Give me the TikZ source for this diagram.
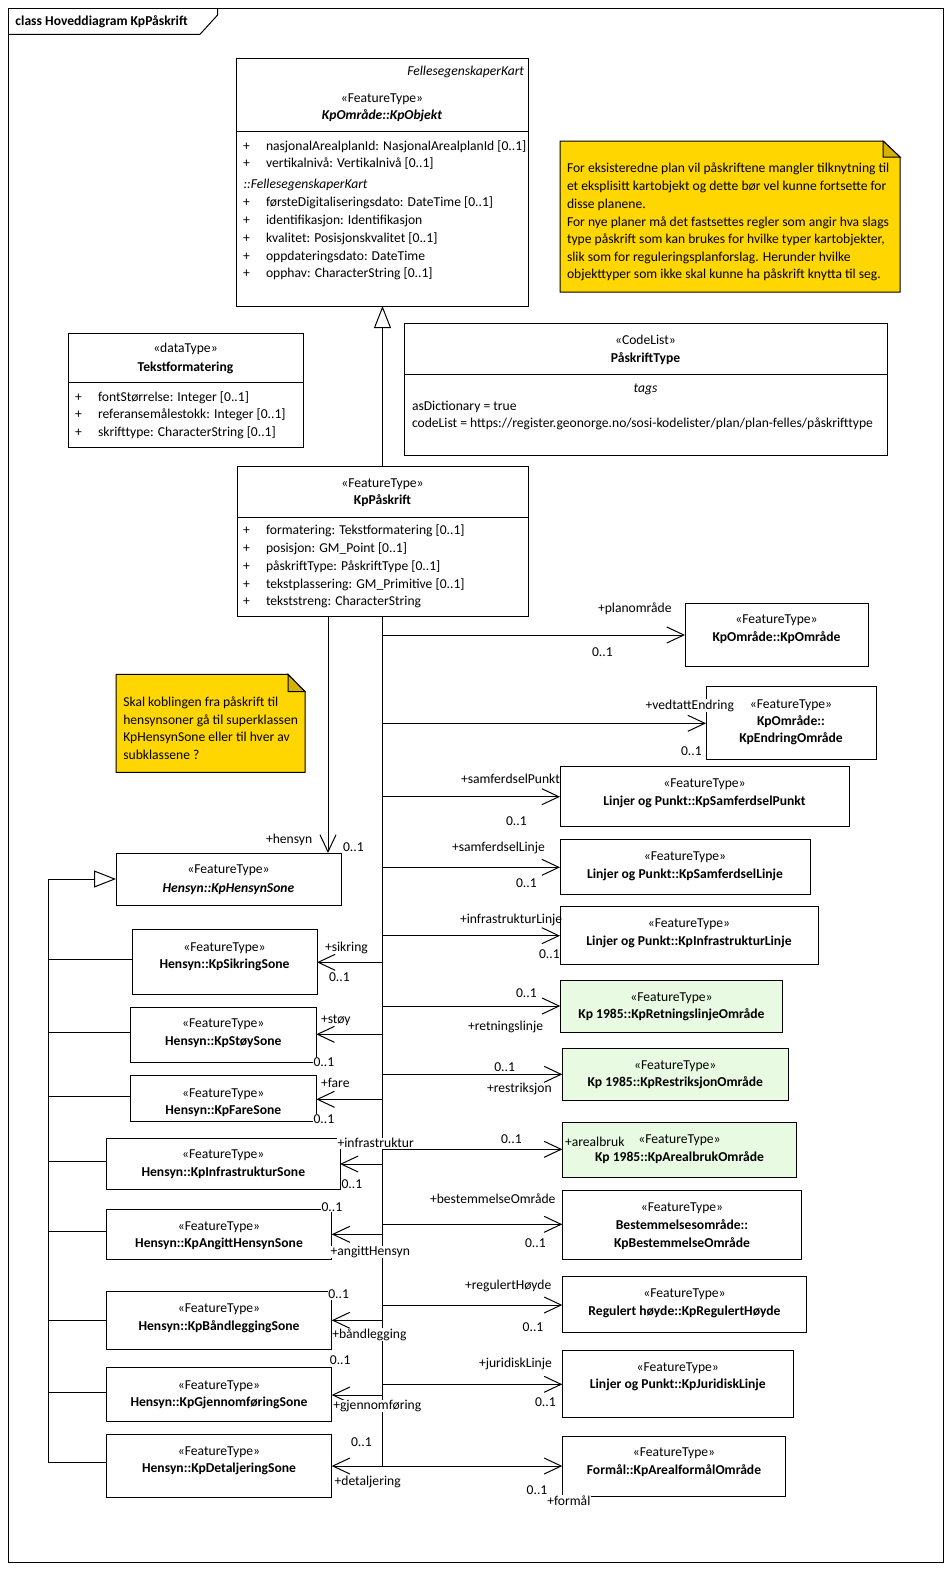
\documentclass[tikz,border=0pt]{standalone}
\usepackage{fontspec}
\setmainfont{Carlito}
\usetikzlibrary{arrows.meta}
\definecolor{noteyellow}{RGB}{255,214,0}
\definecolor{notefold}{RGB}{214,178,0}
\definecolor{kpgreen}{RGB}{232,250,226}
\newcommand\fsz{\fontsize{13.6}{17}\selectfont}
\newcommand\umlattr[5]{\node[tl] (#1p) at (#2,#4) {+}; \node[tl] (#1) at (#3,#4) {#5};}
\tikzset{
  every node/.style={inner sep=0pt, outer sep=0pt, font=\fsz},
  umlbox/.style={draw, line width=1pt, fill=white, anchor=north west, inner sep=0pt, outer sep=0pt},
  greenbox/.style={umlbox, fill=kpgreen},
  sepline/.style={line width=1pt},
  tc/.style={anchor=base, yshift=-4.5pt},
  tl/.style={anchor=base west, yshift=-4.5pt},
  tr/.style={anchor=base east, yshift=-4.5pt},
  bfs/.style={font=\fsz\bfseries},
  its/.style={font=\fsz\itshape},
  bis/.style={font=\fsz\bfseries\itshape},
  role/.style={tl, fill=white, inner sep=0.6pt},
  plainrole/.style={tl},
  assoc/.style={line width=1pt, -{Straight Barb[length=17pt,width=16pt,line width=1pt]}},
  genl/.style={line width=1pt, -{Triangle[open,length=22pt,width=17pt,line width=1pt]}},
  plainline/.style={line width=1pt},
  notebody/.style={line width=1pt, fill=noteyellow},
  notecorner/.style={line width=1pt, fill=notefold},
}
\begin{document}
\begin{tikzpicture}[x=1pt,y=-1pt]
\useasboundingbox (0,0) rectangle (951,1571);
\fill[white] (0,0) rectangle (951,1571);

% frame
\node[draw, line width=1pt, anchor=north west, minimum width=935pt, minimum height=1553pt] (frame) at (8,9) {};
\draw[plainline] (8,34.3) -- (200,34.3) -- (217.6,15) -- (217.6,9);
\node[tl, bfs] (title) at (15.5,21) {class Hoveddiagram KpPåskrift};

% KpObjekt
\node[umlbox, minimum width=292pt, minimum height=247pt] (obj) at (236,59) {};
\draw[sepline] (236,131) -- (528,131);
\node[tr, its] (objpkg) at (524,71) {FellesegenskaperKart};
\node[tc] (objst) at (382,97.7) {«FeatureType»};
\node[tc, bis] (objnm) at (382,115.3) {KpOmråde::KpObjekt};
\umlattr{oa1}{243}{266}{145.7}{nasjonalArealplanId: NasjonalArealplanId [0..1]}
\umlattr{oa2}{243}{266}{163}{vertikalnivå: Vertikalnivå [0..1]}
\node[tl, its] (oinh) at (243.5,184.3) {::FellesegenskaperKart};
\umlattr{oa3}{243}{266}{202.3}{førsteDigitaliseringsdato: DateTime [0..1]}
\umlattr{oa4}{243}{266}{220.3}{identifikasjon: Identifikasjon}
\umlattr{oa5}{243}{266}{238}{kvalitet: Posisjonskvalitet [0..1]}
\umlattr{oa6}{243}{266}{255.7}{oppdateringsdato: DateTime}
\umlattr{oa7}{243}{266}{273.3}{opphav: CharacterString [0..1]}

% Note 1
\draw[notebody] (560,141) -- (883,141) -- (900,157) -- (900,292) -- (560,292) -- cycle;
\draw[notecorner] (883,141) -- (883,157) -- (900,157) -- cycle;
\node[tl] (n1a) at (567,168.3) {For eksisteredne plan vil påskriftene mangler tilknytning til};
\node[tl] (n1b) at (567,185.8) {et eksplisitt kartobjekt og dette bør vel kunne fortsette for};
\node[tl] (n1c) at (567,203.5) {disse planene.};
\node[tl] (n1d) at (567,221.5) {For nye planer må det fastsettes regler som angir hva slags};
\node[tl] (n1e) at (567,239.2) {type påskrift som kan brukes for hvilke typer kartobjekter,};
\node[tl] (n1f) at (567,256.8) {slik som for reguleringsplanforslag. Herunder hvilke};
\node[tl] (n1g) at (567,274.3) {objekttyper som ikke skal kunne ha påskrift knytta til seg.};

% Tekstformatering
\node[umlbox, minimum width=235pt, minimum height=114pt] (tf) at (68,333) {};
\draw[sepline] (68,382) -- (303,382);
\node[tc] (tfst) at (185.5,348) {«dataType»};
\node[tc, bfs] (tfnm) at (185.5,366.5) {Tekstformatering};
\umlattr{ta1}{75}{98}{396.7}{fontStørrelse: Integer [0..1]}
\umlattr{ta2}{75}{98}{414.2}{referansemålestokk: Integer [0..1]}
\umlattr{ta3}{75}{98}{431.7}{skrifttype: CharacterString [0..1]}

% PaskriftType
\node[umlbox, minimum width=483pt, minimum height=132pt] (pt) at (404,323) {};
\draw[sepline] (404,374) -- (887,374);
\node[tc] (ptst) at (645.5,340) {«CodeList»};
\node[tc, bfs] (ptnm) at (645.5,358) {PåskriftType};
\node[tc, its] (pttag) at (645.5,388) {tags};
\node[tl] (ptv1) at (412,406) {asDictionary = true};
\node[tl] (ptv2) at (412,423.3) {codeList = https://register.geonorge.no/sosi-kodelister/plan/plan-felles/påskrifttype};

% KpPaskrift
\node[umlbox, minimum width=291pt, minimum height=150pt] (pa) at (237,466) {};
\draw[sepline] (237,517) -- (528,517);
\node[tc] (past) at (382.5,483) {«FeatureType»};
\node[tc, bfs] (panm) at (382.5,499.5) {KpPåskrift};
\umlattr{pa1}{243}{266}{530}{formatering: Tekstformatering [0..1]}
\umlattr{pa2}{243}{266}{548}{posisjon: GM\_Point [0..1]}
\umlattr{pa3}{243}{266}{566}{påskriftType: PåskriftType [0..1]}
\umlattr{pa4}{243}{266}{583.7}{tekstplassering: GM\_Primitive [0..1]}
\umlattr{pa5}{243}{266}{601}{tekststreng: CharacterString}

% generalization KpPaskrift -> KpObjekt
\draw[genl] (pa.north) -- (pa.north |- obj.south);

% Note 2
\draw[notebody] (116,674.3) -- (288,674.3) -- (305,691.7) -- (305,772.3) -- (116,772.3) -- cycle;
\draw[notecorner] (288,674.3) -- (288,691.7) -- (305,691.7) -- cycle;
\node[tl] (n2a) at (123.3,701.7) {Skal koblingen fra påskrift til};
\node[tl] (n2b) at (123.3,719.5) {hensynsoner gå til superklassen};
\node[tl] (n2c) at (123.3,737.3) {KpHensynSone eller til hver av};
\node[tl] (n2d) at (123.3,755) {subklassene ?};

% ===== left boxes =====
\node[umlbox, minimum width=225pt, minimum height=52pt] (hs) at (116,853) {};
\node[tc] (hss) at (228.5,869) {«FeatureType»};
\node[tc, bis] (hsn) at (228.5,887.5) {Hensyn::KpHensynSone};

\node[umlbox, minimum width=185pt, minimum height=65pt] (ss) at (132,929) {};
\node[tc] (sss) at (224.5,946.7) {«FeatureType»};
\node[tc, bfs] (ssn) at (224.5,963.7) {Hensyn::KpSikringSone};

\node[umlbox, minimum width=186pt, minimum height=54.6pt] (sy) at (130.3,1007.7) {};
\node[tc] (sys) at (223.3,1023.3) {«FeatureType»};
\node[tc, bfs] (syn) at (223.3,1041) {Hensyn::KpStøySone};

\node[umlbox, minimum width=186pt, minimum height=46pt] (fs) at (130.3,1075.7) {};
\node[tc] (fss) at (223.3,1092.7) {«FeatureType»};
\node[tc, bfs] (fsn) at (223.3,1110) {Hensyn::KpFareSone};

\node[umlbox, minimum width=233.3pt, minimum height=51pt] (is) at (106.7,1138.3) {};
\node[tc] (iss) at (223.3,1154.3) {«FeatureType»};
\node[tc, bfs] (isn) at (223.3,1172.3) {Hensyn::KpInfrastrukturSone};

\node[umlbox, minimum width=225pt, minimum height=50pt] (ah) at (106.7,1209.3) {};
\node[tc] (ahs) at (219,1225.7) {«FeatureType»};
\node[tc, bfs] (ahn) at (219,1243.3) {Hensyn::KpAngittHensynSone};

\node[umlbox, minimum width=225pt, minimum height=57.6pt] (bl) at (106.7,1291.7) {};
\node[tc] (bls) at (219,1307.7) {«FeatureType»};
\node[tc, bfs] (bln) at (219,1325.7) {Hensyn::KpBåndleggingSone};

\node[umlbox, minimum width=225pt, minimum height=54.4pt] (gj) at (106.7,1367.3) {};
\node[tc] (gjs) at (219,1385) {«FeatureType»};
\node[tc, bfs] (gjn) at (219,1401.7) {Hensyn::KpGjennomføringSone};

\node[umlbox, minimum width=225pt, minimum height=63pt] (dt) at (106.7,1434.3) {};
\node[tc] (dts) at (219,1450.7) {«FeatureType»};
\node[tc, bfs] (dtn) at (219,1468.3) {Hensyn::KpDetaljeringSone};

% ===== right boxes =====
\node[umlbox, minimum width=183pt, minimum height=63pt] (ko) at (685,603.3) {};
\node[tc] (kos) at (776.5,619.3) {«FeatureType»};
\node[tc, bfs] (kon) at (776.5,637.3) {KpOmråde::KpOmråde};

\node[umlbox, minimum width=170pt, minimum height=72.6pt] (ke) at (706,686.7) {};
\node[tc] (kes) at (791,703.7) {«FeatureType»};
\node[tc, bfs] (ken1) at (791,720.7) {KpOmråde::};
\node[tc, bfs] (ken2) at (791,738.3) {KpEndringOmråde};

\node[umlbox, minimum width=289pt, minimum height=60pt] (sp) at (560,766.7) {};
\node[tc] (sps) at (704.5,782.7) {«FeatureType»};
\node[tc, bfs] (spn) at (704.5,800.7) {Linjer og Punkt::KpSamferdselPunkt};

\node[umlbox, minimum width=250pt, minimum height=55pt] (sl) at (560,839.3) {};
\node[tc] (sls) at (685,855.7) {«FeatureType»};
\node[tc, bfs] (sln) at (685,873.7) {Linjer og Punkt::KpSamferdselLinje};

\node[umlbox, minimum width=258pt, minimum height=57.3pt] (il) at (560,906.7) {};
\node[tc] (ils) at (689,922.7) {«FeatureType»};
\node[tc, bfs] (iln) at (689,940.7) {Linjer og Punkt::KpInfrastrukturLinje};

\node[greenbox, minimum width=222.4pt, minimum height=51.6pt] (ro) at (560.3,980.7) {};
\node[tc] (ros) at (671.5,996.7) {«FeatureType»};
\node[tc, bfs] (ron) at (671.5,1014.3) {Kp 1985::KpRetningslinjeOmråde};

\node[greenbox, minimum width=226pt, minimum height=51.6pt] (rs) at (562.3,1048.7) {};
\node[tc] (rss) at (675.3,1064.7) {«FeatureType»};
\node[tc, bfs] (rsn) at (675.3,1082.3) {Kp 1985::KpRestriksjonOmråde};

\node[greenbox, minimum width=234.4pt, minimum height=54.6pt] (ab) at (562.3,1122.7) {};
\node[tc] (abs) at (679.5,1139) {«FeatureType»};
\node[tc, bfs] (abn) at (679.5,1156.7) {Kp 1985::KpArealbrukOmråde};

\node[umlbox, minimum width=239.4pt, minimum height=69.3pt] (bo) at (562.3,1190) {};
\node[tc] (bos) at (682,1206.7) {«FeatureType»};
\node[tc, bfs] (bon1) at (682,1225) {Bestemmelsesområde::};
\node[tc, bfs] (bon2) at (682,1242.7) {KpBestemmelseOmråde};

\node[umlbox, minimum width=244.4pt, minimum height=55.3pt] (rh) at (562.3,1276.7) {};
\node[tc] (rhs) at (684.5,1292.7) {«FeatureType»};
\node[tc, bfs] (rhn) at (684.5,1310.7) {Regulert høyde::KpRegulertHøyde};

\node[umlbox, minimum width=231pt, minimum height=66.3pt] (jl) at (562.3,1350.7) {};
\node[tc] (jls) at (677.8,1366.7) {«FeatureType»};
\node[tc, bfs] (jln) at (677.8,1384.3) {Linjer og Punkt::KpJuridiskLinje};

\node[umlbox, minimum width=223.4pt, minimum height=60.7pt] (fo) at (562.3,1436) {};
\node[tc] (fos) at (674,1452.3) {«FeatureType»};
\node[tc, bfs] (fon) at (674,1470) {Formål::KpArealformålOmråde};

% ===== generalization tree to KpHensynSone =====
\coordinate (tx) at (48.3,879);
\draw[genl] (dt.west |- 0,1462.7) -| (tx) -- (tx -| hs.west);
\foreach \n/\yy in {ss/959.3, sy/1032.3, fs/1096, is/1161.3, ah/1231.3, bl/1320.3, gj/1392.3}
  \draw[plainline] (48.3,\yy) -- (\n.west |- 48.3,\yy);

% ===== hensyn =====
\coordinate (hx) at (328,616);
\draw[assoc] (hx) -- (hx |- hs.north);

% ===== bus =====
\coordinate (busbot) at (382,1466);
\draw[plainline] (pa.south -| busbot) -- (busbot);

% right associations
\coordinate (b1) at (382,635);      \draw[assoc] (b1) -- (b1 -| ko.west);
\coordinate (b2) at (382,723.3);    \draw[assoc] (b2) -- (b2 -| ke.west);
\coordinate (b3) at (382,796.7);    \draw[assoc] (b3) -- (b3 -| sp.west);
\coordinate (b4) at (382,867.3);    \draw[assoc] (b4) -- (b4 -| sl.west);
\coordinate (b5) at (382,935.7);    \draw[assoc] (b5) -- (b5 -| il.west);
\coordinate (b6) at (382,1006);     \draw[assoc] (b6) -- (b6 -| ro.west);
\coordinate (b7) at (382,1074.3);   \draw[assoc] (b7) -- (b7 -| rs.west);
\coordinate (b8) at (382,1149.3);   \draw[assoc] (b8) -- (b8 -| ab.west);
\coordinate (b9) at (382,1224.3);   \draw[assoc] (b9) -- (b9 -| bo.west);
\coordinate (b10) at (382,1305);    \draw[assoc] (b10) -- (b10 -| rh.west);
\coordinate (b11) at (382,1384.3);  \draw[assoc] (b11) -- (b11 -| jl.west);
\draw[assoc] (busbot) -- (busbot -| fo.west);

% left associations
\coordinate (c1) at (382,962.3);   \draw[assoc] (c1) -- (c1 -| ss.east);
\coordinate (c2) at (382,1034.3);  \draw[assoc] (c2) -- (c2 -| sy.east);
\coordinate (c3) at (382,1099.3);  \draw[assoc] (c3) -- (c3 -| fs.east);
\coordinate (c4) at (382,1164);    \draw[assoc] (c4) -- (c4 -| is.east);
\coordinate (c5) at (382,1234.3);  \draw[assoc] (c5) -- (c5 -| ah.east);
\coordinate (c6) at (382,1320.3);  \draw[assoc] (c6) -- (c6 -| bl.east);
\coordinate (c7) at (382,1395);    \draw[assoc] (c7) -- (c7 -| gj.east);
\draw[assoc] (busbot) -- (busbot -| dt.east);

% ===== role labels and multiplicities =====
\node[plainrole] (lhen) at (266,839) {+hensyn};
\node[plainrole] (mhen) at (343,846.7) {0..1};

\node[plainrole] (lpl) at (598,608) {+planområde};
\node[plainrole] (mpl) at (592,651.7) {0..1};
\node[role] (lve) at (645,704.7) {+vedtattEndring};
\node[plainrole] (mve) at (681,750.7) {0..1};
\node[plainrole] (lsp) at (461,778.7) {+samferdselPunkt};
\node[plainrole] (msp) at (506,820.7) {0..1};
\node[plainrole] (lsl) at (452,847.3) {+samferdselLinje};
\node[plainrole] (msl) at (516,883.3) {0..1};
\node[plainrole] (lil) at (460,918.7) {+infrastrukturLinje};
\node[plainrole] (mil) at (539,954.3) {0..1};
\node[plainrole] (mro) at (516,993.3) {0..1};
\node[plainrole] (lro) at (468,1025.7) {+retningslinje};
\node[role] (mrs) at (493.7,1067.3) {0..1};
\node[plainrole] (lrs) at (487,1087.7) {+restriksjon};
\node[plainrole] (mab) at (501,1139) {0..1};
\node[plainrole] (lab) at (565,1141.7) {+arealbruk};
\node[plainrole] (lbo) at (430,1199.3) {+bestemmelseOmråde};
\node[plainrole] (mbo) at (525,1242.7) {0..1};
\node[plainrole] (lrh) at (465,1285.3) {+regulertHøyde};
\node[plainrole] (mrh) at (522.7,1326.7) {0..1};
\node[plainrole] (ljl) at (479,1363.3) {+juridiskLinje};
\node[plainrole] (mjl) at (535,1401.7) {0..1};
\node[plainrole] (mfo) at (526.7,1490) {0..1};
\node[role] (lfo) at (546.7,1500.7) {+formål};

\node[plainrole] (lss) at (325,947.3) {+sikring};
\node[plainrole] (mss) at (329,977.3) {0..1};
\node[plainrole] (lsy) at (321,1019) {+støy};
\node[role] (msy) at (313,1062.3) {0..1};
\node[plainrole] (lfs) at (321,1082.7) {+fare};
\node[role] (mfs) at (313,1119.3) {0..1};
\node[role] (lis) at (337,1143.3) {+infrastruktur};
\node[role] (mis) at (341,1184.3) {0..1};
\node[role] (mah) at (321,1206.7) {0..1};
\node[role] (lah) at (330,1251) {+angittHensyn};
\node[role] (mbl) at (327.7,1294.3) {0..1};
\node[role] (lbl) at (331.7,1334) {+båndlegging};
\node[role] (mgj) at (329.3,1360) {0..1};
\node[role] (lgj) at (332.7,1405) {+gjennomføring};
\node[plainrole] (mdt) at (351,1441.7) {0..1};
\node[role] (ldt) at (334,1480.7) {+detaljering};
\end{tikzpicture}
\end{document}
